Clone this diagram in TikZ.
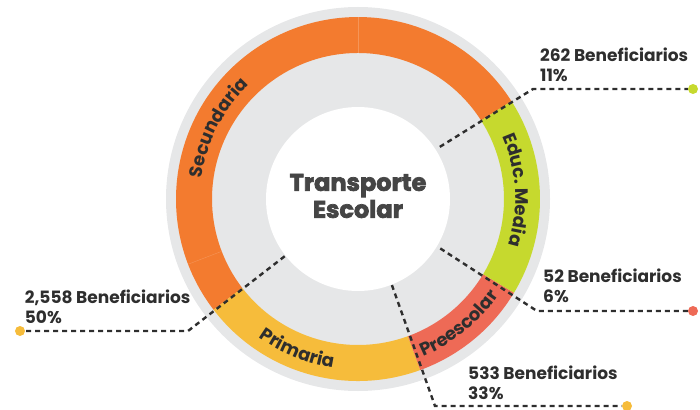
\documentclass[tikz,border=0pt]{standalone}
\usepackage{fontspec}
\setmainfont{Poppins}
\newfontfamily\titlefont{Poppins}[BoldFeatures={FakeBold=3}]
\usetikzlibrary{positioning, decorations.text}
\definecolor{ringgray}{HTML}{E6E7E8}
\definecolor{secorange}{HTML}{F37B2F}
\definecolor{edugreen}{HTML}{C6D92E}
\definecolor{prered}{HTML}{EE6A56}
\definecolor{priyellow}{HTML}{F6BC3B}
\definecolor{inkgray}{HTML}{2E2E2E}
\definecolor{titlegray}{HTML}{454545}
\tikzset{ringlabel/.style={decorate, decoration={text along path, text align=center, text color=inkgray, text={|\fontsize{18}{20}\selectfont\bfseries|#1}}}}

\begin{document}
\begin{tikzpicture}[x=1pt, y=1pt]
\tikzstyle{every node}+=[inner sep=0pt]
\tikzstyle{leader}=[inkgray, line width=2.4pt, dash pattern=on 5pt off 4pt]
\tikzstyle{dot}=[circle, minimum size=10pt]
\tikzstyle{numlabel}=[align=left, text=inkgray, font=\fontsize{17}{20}\selectfont\bfseries]
\useasboundingbox (-358,-210) rectangle (342,199);
\fill[ringgray] (0,0) circle (192);
\fill[white] (0,0) circle (92);
\fill[secorange] (32.5:146) arc (32.5:217.5:146) -- (217.5:182) arc (217.5:32.5:182) -- cycle;
\fill[priyellow] (217.5:146) arc (217.5:290:146) -- (290:182) arc (290:217.5:182) -- cycle;
\fill[prered] (-70:146) arc (-70:-31:146) -- (-31:182) arc (-31:-70:182) -- cycle;
\fill[edugreen] (-31:146) arc (-31:32.5:146) -- (32.5:182) arc (32.5:-31:182) -- cycle;
\draw[secorange!80!white, line width=0.4pt] (90:146) -- (90:182);
\draw[secorange!80!white, line width=0.4pt] (201:146) -- (201:182);
\node[align=center, text=titlegray, font=\fontsize{24}{27}\selectfont\titlefont\bfseries] (title) at (0,3) {Transporte\\Escolar};
\path[ringlabel=Secundaria] (183:157.5) arc (183:123:157.5);
\path[ringlabel={Educ. Media}] (33.3:157.5) arc (33.3:-26.7:157.5);
\path[ringlabel=Preescolar] (-81:170.5) arc (-81:-21:170.5);
\path[ringlabel=Primaria] (218:170.5) arc (218:278:170.5);
\coordinate (n262 in) at (32.5:97);
\coordinate (n262 out) at (175,110);
\node[dot, fill=edugreen] (n262 dot) at (335,110) {};
\draw[leader] (n262 in) -- (n262 out) -- (n262 dot);
\node[numlabel, above right=7pt and 7pt of n262 out] (n262 lbl) {262 Beneficiarios\\11\%};
\coordinate (n52 in) at (-31:96);
\coordinate (n52 out) at (179,-112);
\node[dot, fill=prered] (n52 dot) at (335,-112) {};
\draw[leader] (n52 in) -- (n52 out) -- (n52 dot);
\node[numlabel, above right=8pt and 6pt of n52 out] (n52 lbl) {52 Beneficiarios\\6\%};
\coordinate (n533 in) at (-68.5:92.5);
\coordinate (n533 out) at (77,-207);
\node[dot, fill=priyellow] (n533 dot) at (269,-207) {};
\draw[leader] (n533 in) -- (n533 out) -- (n533 dot);
\node[numlabel, above right=6pt and 33pt of n533 out] (n533 lbl) {533 Beneficiarios\\33\%};
\coordinate (n2558 in) at (218:93);
\coordinate (n2558 out) at (-170,-132);
\node[dot, fill=priyellow] (n2558 dot) at (-338,-132) {};
\draw[leader] (n2558 in) -- (n2558 out) -- (n2558 dot);
\node[numlabel, above right=3pt and 1pt of n2558 dot] (n2558 lbl) {2,558 Beneficiarios\\50\%};
\end{tikzpicture}
\end{document}
